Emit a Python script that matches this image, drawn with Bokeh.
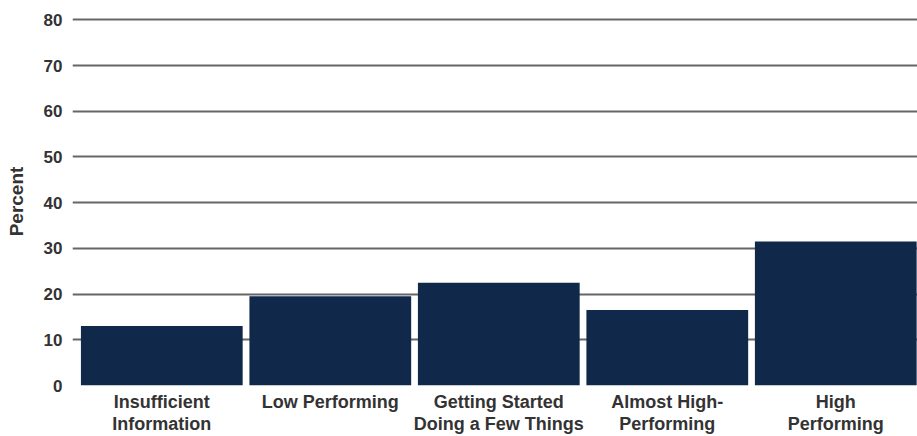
from bokeh.plotting import figure
from bokeh.models import FixedTicker, Range1d, ColumnDataSource
from bokeh.embed import file_html
from bokeh.resources import INLINE

categories = [
    "Insufficient\nInformation",
    "Low Performing",
    "Getting Started\nDoing a Few Things",
    "Almost High-\nPerforming",
    "High\nPerforming",
]
values = [13, 19.5, 22.5, 16.5, 31.5]
y_ticks = [0, 10, 20, 30, 40, 50, 60, 70, 80]

x_pos = [i + 0.5 for i in range(len(categories))]
src = ColumnDataSource(dict(x=x_pos, top=values))

FONT = "Liberation Sans"
TXT = "#333333"

p = figure(width=917, height=436, output_backend="svg", toolbar_location=None,
           x_range=Range1d(-0.03, 4.985), y_range=Range1d(0, 80.5),
           min_border_left=72, min_border_right=0, min_border_top=17,
           min_border_bottom=47)

p.vbar(x="x", top="top", bottom=0, width=0.96, source=src,
       fill_color="#10284a", line_color=None)

p.outline_line_color = None
p.background_fill_color = "white"
p.border_fill_color = "white"
p.xgrid.visible = False
p.ygrid.grid_line_color = "#666666"
p.ygrid.grid_line_width = 2
p.ygrid.ticker = FixedTicker(ticks=y_ticks)

ya = p.yaxis[0]
ya.ticker = FixedTicker(ticks=y_ticks)
ya.axis_line_color = None
ya.major_tick_line_color = None
ya.minor_tick_line_color = None
ya.major_tick_out = 0
ya.major_tick_in = 0
ya.major_label_standoff = 10
ya.major_label_text_font = FONT
ya.major_label_text_font_style = "bold"
ya.major_label_text_font_size = "17px"
ya.major_label_text_color = TXT
ya.axis_label = "Percent"
ya.axis_label_text_font = FONT
ya.axis_label_text_font_style = "bold"
ya.axis_label_text_font_size = "19px"
ya.axis_label_text_color = TXT
ya.axis_label_standoff = 14

xa = p.xaxis[0]
xa.ticker = FixedTicker(ticks=x_pos)
xa.major_label_overrides = {x: c for x, c in zip(x_pos, categories)}
xa.axis_line_color = None
xa.major_tick_line_color = None
xa.minor_tick_line_color = None
xa.major_tick_out = 0
xa.major_tick_in = 0
xa.major_label_standoff = 6
xa.major_label_text_font = FONT
xa.major_label_text_font_style = "bold"
xa.major_label_text_font_size = "18px"
xa.major_label_text_color = TXT
xa.major_label_text_line_height = 1.1

open("out.html", "w").write(file_html(p, INLINE))
